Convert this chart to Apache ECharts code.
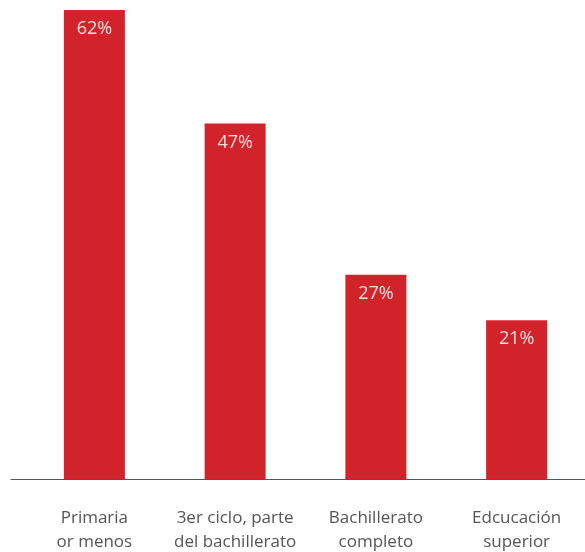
<!DOCTYPE html>
<html><head><meta charset="utf-8">
<script src="https://cdn.jsdelivr.net/npm/echarts@6/dist/echarts.min.js"></script>
<style>html,body{margin:0;padding:0;background:#fff}#c{width:585px;height:552px}</style>
</head><body><div id="c"></div>
<script>
const categories = ['Primaria\nor menos', '3er ciclo, parte\ndel bachillerato', 'Bachillerato\ncompleto', 'Edcucación\nsuperior'];
const values = [62, 47, 27, 21];

const chart = echarts.init(document.getElementById('c'));
chart.setOption({
  animation: false,
  grid: [
    {left: 24, top: 10, width: 563, bottom: 73, containLabel: false, outerBoundsMode: 'none'},
    {left: 11, top: 10, right: 0, bottom: 73, containLabel: false, outerBoundsMode: 'none'}
  ],
  xAxis: [
    {type: 'category', gridIndex: 0, data: categories,
     axisLine: {show: false}, axisTick: {show: false},
     axisLabel: {interval: 0, margin: 27, fontFamily: 'Open Sans', fontSize: 17, color: '#555', lineHeight: 24}},
    {type: 'category', gridIndex: 1, data: [''],
     axisLine: {show: true, lineStyle: {color: '#555', width: 1}}, axisTick: {show: false}, axisLabel: {show: false}}
  ],
  yAxis: [
    {type: 'value', gridIndex: 0, min: 0, max: 62, show: false, splitLine: {show: false}},
    {type: 'value', gridIndex: 1, min: 0, max: 62, show: false, splitLine: {show: false}}
  ],
  series: [{
    type: 'bar', xAxisIndex: 0, yAxisIndex: 0, data: values, barWidth: 61,
    itemStyle: {color: '#d2232a'},
    label: {show: true, position: 'insideTop', distance: 10, formatter: '{c}%',
      fontFamily: 'Open Sans', fontSize: 18, color: '#f7dede'}
  }]
});
</script></body></html>
